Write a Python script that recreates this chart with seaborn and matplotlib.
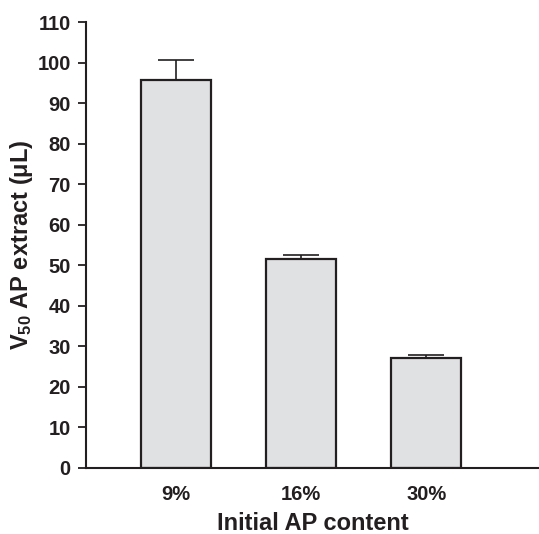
import matplotlib
matplotlib.use("Agg")
import matplotlib.pyplot as plt
import seaborn as sns
import pandas as pd

# values
content = ['9%', '16%', '30%']
v50 = [95.7, 51.6, 27.1]
sd = [4.9, 0.9, 0.7]

sns.set_style('ticks')
plt.rcParams['font.family'] = ['Liberation Sans', 'DejaVu Sans']
plt.rcParams['font.weight'] = 'bold'
plt.rcParams['mathtext.fontset'] = 'custom'
plt.rcParams['mathtext.rm'] = 'Liberation Sans'
plt.rcParams['mathtext.bf'] = 'Liberation Sans:bold'
plt.rcParams['mathtext.it'] = 'Liberation Sans:bold'
plt.rcParams['mathtext.default'] = 'bf'

df = pd.DataFrame({'content': content, 'v50': v50})

fig = plt.figure(figsize=(5.39, 5.34), dpi=100)
ax = fig.add_axes([0.1596, 0.1236, 0.8404, 0.8352])

sns.barplot(x='content', y='v50', data=df, ax=ax, color='#e0e1e3',
            edgecolor='#231f20', linewidth=1.6, width=0.56, saturation=1)

# one-sided error bars (upper only)
ax.errorbar(range(len(content)), v50, yerr=[[0] * len(sd), sd], fmt='none',
            ecolor='#231f20', elinewidth=1.2, capsize=13, capthick=1.2, zorder=3)

ax.set_ylim(0, 110)
ax.set_xlim(-0.72, 2.9)
ax.set_yticks(range(0, 111, 10))
ax.tick_params(axis='y', direction='out', length=6, width=1.3, labelsize=14.5, pad=5, colors='#231f20')
ax.tick_params(axis='x', length=0, labelsize=14.5, pad=12, colors='#231f20')
for lbl in ax.get_xticklabels() + ax.get_yticklabels():
    lbl.set_fontweight('bold')

sns.despine(ax=ax)
for s in ['left', 'bottom']:
    ax.spines[s].set_linewidth(1.5)
    ax.spines[s].set_color('#231f20')

ax.set_xlabel('Initial AP content', fontsize=17, fontweight='bold', labelpad=6, color='#231f20')
ax.set_ylabel(r'V$_{\mathbf{50}}$ AP extract ($\mathrm{\mu}$L)', fontsize=17, fontweight='bold',
              labelpad=2, color='#231f20')

fig.savefig('out.png', dpi=100)
